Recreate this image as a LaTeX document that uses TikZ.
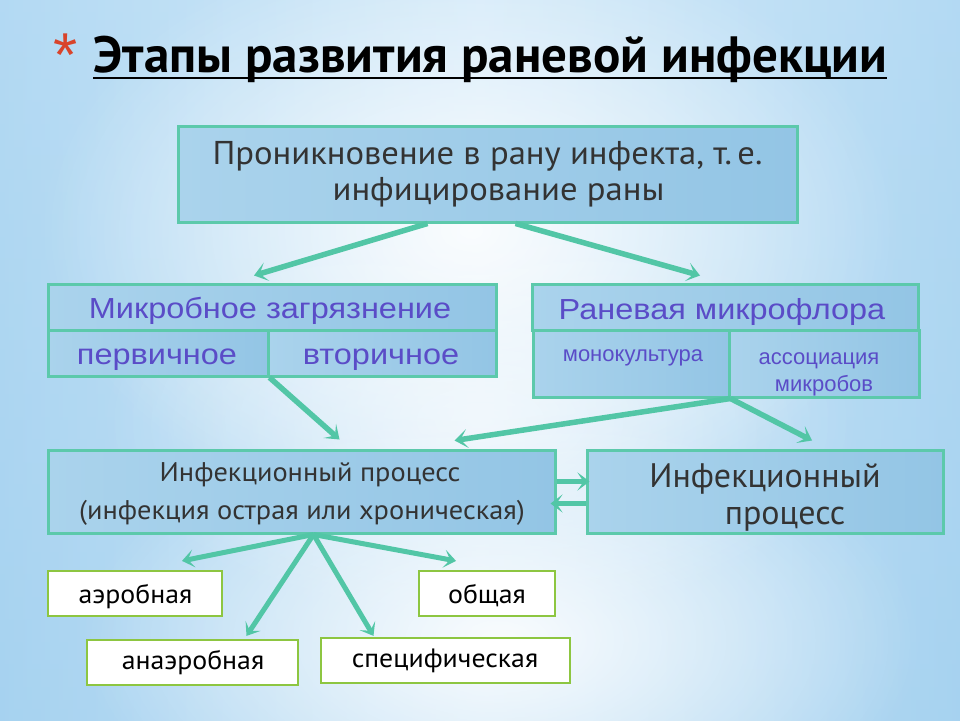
\documentclass[tikz,border=0pt]{standalone}
\usepackage{fontspec}
\setmainfont{PT Sans}
\newfontfamily\bodyfont[FakeStretch=1.05]{PT Sans}
\newfontfamily\arfont{Liberation Sans}
\newfontfamily\arwfont[FakeStretch=1.12]{Liberation Sans}
\usetikzlibrary{arrows.meta,fadings}
\tikzfading[name=glowfade,inner color=transparent!0,outer color=transparent!100]
\definecolor{bgblue}{HTML}{A8D4F1}
\definecolor{bgtop}{HTML}{C4E2F6}
\definecolor{bgbot}{HTML}{A4D0EF}
\definecolor{bglight}{HTML}{DDEFFB}
\definecolor{boxL}{HTML}{AAD3EC}
\definecolor{boxR}{HTML}{93C5E5}
\definecolor{edgec}{HTML}{5CC9AB}
\definecolor{arrc}{HTML}{52C6A6}
\definecolor{grn}{HTML}{8DC641}
\definecolor{purp}{HTML}{5A4CC7}
\definecolor{txt}{HTML}{333333}
\definecolor{starc}{HTML}{D9442B}
\begin{document}
\begin{tikzpicture}[x=1pt,y=-1pt,
  bluebox/.style={draw=edgec,line width=3pt,left color=boxL,right color=boxR,inner sep=0pt,align=center},
  whitebox/.style={draw=grn,line width=2.2pt,fill=white,inner sep=0pt},
  lbl/.style={anchor=base,inner sep=0pt},
  ptxt/.style={lbl,text=purp,font=\arwfont\fontsize{29}{30}\selectfont},
  stxt/.style={lbl,text=purp,font=\arfont\fontsize{22}{24}\selectfont},
  btxt/.style={lbl,text=black,font=\bodyfont\fontsize{26.5}{28}\selectfont},
  itxt/.style={lbl,text=txt,font=\bodyfont\fontsize{27}{28}\selectfont},
  arr/.style={draw=arrc,line width=5.5pt,-{Stealth[length=13pt,width=19pt,inset=7pt]}},
  arrs/.style={draw=arrc,line width=5pt,-{Stealth[length=12pt,width=18pt,inset=6pt]}}]
\useasboundingbox (0,0) rectangle (960,720);
% background
\shade[top color=bgtop,bottom color=bgbot] (0,0) rectangle (960,720);
\shade[left color=bgblue,right color=bgblue,middle color=bglight,opacity=0.6] (0,0) rectangle (960,720);
\fill[white,path fading=glowfade,opacity=0.9] (470,230) ellipse (430 and 300);
\fill[white,path fading=glowfade,opacity=0.6] (480,420) ellipse (380 and 200);
\fill[white,path fading=glowfade,opacity=0.9] (500,640) ellipse (420 and 230);

% title
\node[anchor=base west,inner sep=0pt,text=starc,font=\arfont\fontsize{62}{62}\selectfont] (ast) at (53,76) {*};
\node[anchor=base west,inner sep=0pt,text=black,font=\bfseries\fontsize{51}{51}\selectfont] (title) at (93,72) {Этапы развития раневой инфекции};
\draw[line width=2.8pt] ([yshift=-6pt]title.base west) -- ([yshift=-6pt]title.base east);

% top box
\node[bluebox,minimum width=619pt,minimum height=96pt,text=txt,
  font=\bodyfont\fontsize{33}{36}\selectfont] (topb) at (487.5,174)
  {Проникновение в рану инфекта, т.\,е.\\ \hspace*{22pt}инфицирование раны};

% microbe box
\node[bluebox,minimum width=448pt,minimum height=46pt] (mz) at (272,307) {};
\node[bluebox,minimum width=220pt,minimum height=46pt] (pv) at (158,353) {};
\node[bluebox,minimum width=228pt,minimum height=46pt] (vt) at (382,353) {};
\node[ptxt] (mzt) at (270,318) {Микробное загрязнение};
\node[ptxt] (pvt) at (157,364) {первичное};
\node[ptxt] (vtt) at (381,364) {вторичное};

% microflora box
\node[bluebox,minimum width=386pt,minimum height=46pt] (mf) at (725,307) {};
\node[bluebox,minimum width=196pt,minimum height=67pt] (mk) at (631,363.5) {};
\node[bluebox,minimum width=190pt,minimum height=67pt] (as) at (824,363.5) {};
\node[ptxt] (mft) at (722,319) {Раневая микрофлора};
\node[stxt] (mkt) at (633,361) {монокультура};
\node[stxt] (ast1) at (819,364) {ассоциация};
\node[stxt] (ast2) at (824,391) {микробов};

% infection boxes
\node[bluebox,minimum width=507pt,minimum height=83pt] (ip) at (301.5,491.5) {};
\node[bluebox,minimum width=356pt,minimum height=83pt] (ip2) at (765,491.5) {};
\node[itxt] (ipt1) at (310,481) {Инфекционный процесс};
\node[itxt] (ipt2) at (302,519) {(инфекция острая или хроническая)};
\node[lbl,text=txt,font=\fontsize{34}{36}\selectfont] (ip2t1) at (765,487) {Инфекционный};
\node[lbl,text=txt,font=\fontsize{34}{36}\selectfont] (ip2t2) at (785,524) {процесс};

% small boxes
\node[whitebox,minimum width=174pt,minimum height=45pt] (aer) at (135,593.5) {};
\node[whitebox,minimum width=136pt,minimum height=45pt] (ob) at (487,593.5) {};
\node[whitebox,minimum width=211pt,minimum height=45pt] (ana) at (192.5,662.5) {};
\node[whitebox,minimum width=249pt,minimum height=45pt] (sp) at (445.5,660.5) {};
\node[btxt] (aert) at (135.5,603) {аэробная};
\node[btxt] (obt) at (487,603) {общая};
\node[btxt] (anat) at (193,669) {анаэробная};
\node[btxt] (spt) at (445,667) {специфическая};

% arrows
\draw[arr] ([xshift=-60pt]topb.south) -- ([xshift=-18pt,yshift=7pt]mz.north);
\draw[arr] ([xshift=28pt]topb.south) -- ([xshift=-25pt,yshift=7pt]mf.north);
\draw[arr] (pv.south east) -- ([xshift=38pt,yshift=9pt]ip.north);
\draw[arr] (mk.south east) -- ([xshift=153pt,yshift=8pt]ip.north);
\draw[arr] (mk.south east) -- ([xshift=47pt,yshift=8pt]ip2.north);
\draw[arrs] ([yshift=10pt]ip.east) -- ([xshift=4pt,yshift=10pt]ip2.west);
\draw[arrs] ([yshift=-12pt]ip2.west) -- ([xshift=-6pt,yshift=-12pt]ip.east);
\draw[arrs] ([xshift=12pt]ip.south) -- ([xshift=47pt,yshift=9pt]aer.north);
\draw[arrs] ([xshift=12pt]ip.south) -- ([xshift=-31pt,yshift=9pt]ob.north);
\draw[arrs] ([xshift=12pt]ip.south) -- ([xshift=54pt,yshift=3pt]ana.north);
\draw[arrs] ([xshift=12pt]ip.south) -- ([xshift=-72pt,yshift=1pt]sp.north);
\end{tikzpicture}
\end{document}
